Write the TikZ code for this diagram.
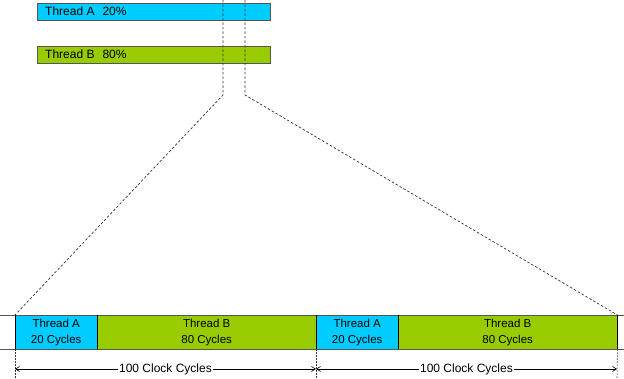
\documentclass[tikz,border=0pt]{standalone}
\usepackage{fontspec}
\setmainfont{Liberation Sans}
\usetikzlibrary{arrows.meta}
\definecolor{tA}{HTML}{00CCFF}
\definecolor{tB}{HTML}{99CC00}
\definecolor{edge}{HTML}{555555}
\begin{document}
\begin{tikzpicture}[x=1pt,y=-1pt,
  bar/.style={draw=edge,line width=0.8pt,inner sep=0pt,minimum height=17pt,minimum width=233pt,anchor=north west},
  seg/.style={inner sep=0pt,minimum height=34pt,anchor=north west,align=center,font=\fontsize{11.5}{16}\selectfont},
  dsh/.style={dashed,dash pattern=on 2.5pt off 2pt,line width=0.7pt,black!80},
  vdot/.style={line width=0.6pt,black!80,dash pattern=on 1.5pt off 1.5pt},
  dim/.style={line width=0.6pt,{Straight Barb[length=4pt,width=5pt]}-{Straight Barb[length=4pt,width=5pt]}},
  lbl/.style={font=\fontsize{12}{14}\selectfont,fill=white,inner sep=1pt}]
\useasboundingbox (0,0) rectangle (624,379);
% top bars
\node[bar,fill=tA] (ba) at (37,3) {};
\node[bar,fill=tB] (bb) at (37,46) {};
\node[anchor=west,font=\fontsize{12}{14}\selectfont,inner sep=0pt] (la) at (45,11.5) {Thread A\hspace{8pt}20\%};
\node[anchor=west,font=\fontsize{12}{14}\selectfont,inner sep=0pt] (lb) at (45,54.5) {Thread B\hspace{8pt}80\%};
% bottom segments
\node[seg,fill=tA,minimum width=82pt] (s1) at (15,315) {Thread A\\20 Cycles};
\node[seg,fill=tB,minimum width=219pt] (s2) at (97,315) {Thread B\\80 Cycles};
\node[seg,fill=tA,minimum width=82pt] (s3) at (316,315) {Thread A\\20 Cycles};
\node[seg,fill=tB,minimum width=219pt] (s4) at (398,315) {Thread B\\80 Cycles};
\draw[edge,line width=0.8pt] (0,315) -- (624,315) (0,349) -- (624,349);
\draw[black,line width=0.9pt] (s1.north west) -- (s1.south west);
\draw[black,line width=0.9pt] (s3.north west) -- (s3.south west);
\draw[black,line width=0.9pt] (s4.north east) -- (s4.south east);
\draw[black,line width=0.7pt] (s1.north east) -- (s1.south east);
\draw[black,line width=0.7pt] (s3.north east) -- (s3.south east);
% zoom dashed lines
\coordinate (t1) at (223,0);
\coordinate (t2) at (245,0);
\coordinate (k1) at (223,95);
\coordinate (k2) at (245,95);
\draw[dsh] (t1) -- (k1) -- (s1.north west);
\draw[dsh] (t2) -- (k2) -- (s4.north east);
% dimension lines
\draw[vdot] (s1.south west) -- (15,379);
\draw[vdot] (s3.south west) -- (316,379);
\draw[vdot] (s4.south east) -- (617,379);
\coordinate (d1) at (15,369);
\coordinate (d2) at (316,369);
\coordinate (d3) at (617,369);
\draw[dim] (d1) -- (d2) node[midway,lbl] {100 Clock Cycles};
\draw[dim] (d2) -- (d3) node[midway,lbl] {100 Clock Cycles};
\end{tikzpicture}
\end{document}
